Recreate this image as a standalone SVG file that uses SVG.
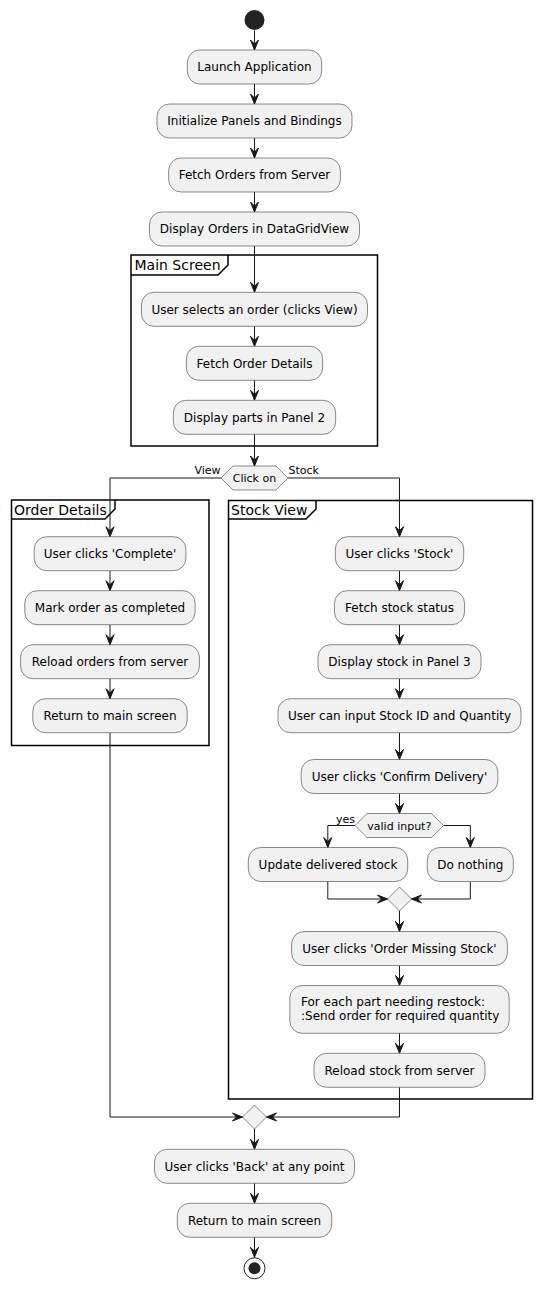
<svg xmlns="http://www.w3.org/2000/svg" width="542" height="1289" viewBox="0 0 542 1289">
<style>
.box{fill:#F1F1F1;stroke:#181818;stroke-width:0.5}
.t{font-family:"DejaVu Sans",sans-serif;font-size:12px;fill:#000;text-anchor:middle}
.tl{font-family:"DejaVu Sans",sans-serif;font-size:12px;fill:#000}
.s{font-family:"DejaVu Sans",sans-serif;font-size:11px;fill:#000}
.ft{font-family:"DejaVu Sans",sans-serif;font-size:14px;fill:#000}
.frame{fill:none;stroke:#000;stroke-width:1.5}
.c{fill:none;stroke:#181818;stroke-width:1}
</style>
<defs>
<marker id="ah" markerUnits="userSpaceOnUse" viewBox="-1 -1 12 12" refX="10" refY="5" markerWidth="12" markerHeight="12" orient="auto">
<path d="M0,1 L10,5 L0,9 L4,5 Z" fill="#181818" stroke="#181818" stroke-width="1" stroke-linejoin="round"/>
</marker>
</defs>
<rect width="542" height="1289" fill="#FFFFFF"/>

<g id="frames">
<g id="frame-main">
<rect class="frame" x="131" y="255" width="246.5" height="191"/>
<path class="frame" d="M131,275 L218,275 L228,265 L228,255"/>
<text class="ft" x="134.5" y="269.5">Main Screen</text>
</g>
<g id="frame-order">
<rect class="frame" x="11.5" y="500" width="197.5" height="245.5"/>
<path class="frame" d="M11.5,519 L105,519 L115,509 L115,500"/>
<text class="ft" x="14" y="514.5">Order Details</text>
</g>
<g id="frame-stock">
<rect class="frame" x="228.5" y="500.5" width="304" height="598.5"/>
<path class="frame" d="M228.5,519 L306,519 L316,509 L316,500.5"/>
<text class="ft" x="231" y="515">Stock View</text>
</g>
</g>

<g id="connectors">
<line class="c" x1="254.5" y1="30.5" x2="254.5" y2="50" marker-end="url(#ah)"/>
<line class="c" x1="254.5" y1="84" x2="254.5" y2="104" marker-end="url(#ah)"/>
<line class="c" x1="254.5" y1="138" x2="254.5" y2="158" marker-end="url(#ah)"/>
<line class="c" x1="254.5" y1="192" x2="254.5" y2="212" marker-end="url(#ah)"/>
<line class="c" x1="254.5" y1="246" x2="254.5" y2="292.3" marker-end="url(#ah)"/>
<line class="c" x1="254.5" y1="326.3" x2="254.5" y2="346.3" marker-end="url(#ah)"/>
<line class="c" x1="254.5" y1="380.3" x2="254.5" y2="400.3" marker-end="url(#ah)"/>
<line class="c" x1="254.5" y1="434.3" x2="254.5" y2="466" marker-end="url(#ah)"/>
<polyline class="c" points="221,478 110,478 110,536.7" marker-end="url(#ah)"/>
<polyline class="c" points="288,478 399.5,478 399.5,536.7" marker-end="url(#ah)"/>
<line class="c" x1="110" y1="570.7" x2="110" y2="590.7" marker-end="url(#ah)"/>
<line class="c" x1="110" y1="624.7" x2="110" y2="644.7" marker-end="url(#ah)"/>
<line class="c" x1="110" y1="678.7" x2="110" y2="698.7" marker-end="url(#ah)"/>
<polyline class="c" points="110,732.7 110,1117 242.5,1117" marker-end="url(#ah)"/>
<line class="c" x1="399.5" y1="570.7" x2="399.5" y2="590.7" marker-end="url(#ah)"/>
<line class="c" x1="399.5" y1="624.7" x2="399.5" y2="644.7" marker-end="url(#ah)"/>
<line class="c" x1="399.5" y1="678.7" x2="399.5" y2="698.7" marker-end="url(#ah)"/>
<line class="c" x1="399.5" y1="732.7" x2="399.5" y2="759.5" marker-end="url(#ah)"/>
<line class="c" x1="399.5" y1="793.5" x2="399.5" y2="813.5" marker-end="url(#ah)"/>
<polyline class="c" points="355,825.5 327.8,825.5 327.8,847.5" marker-end="url(#ah)"/>
<polyline class="c" points="443.5,825.5 470.3,825.5 470.3,847.5" marker-end="url(#ah)"/>
<polyline class="c" points="327.8,881.5 327.8,899 387.5,899" marker-end="url(#ah)"/>
<polyline class="c" points="470.3,881.5 470.3,899 411.5,899" marker-end="url(#ah)"/>
<line class="c" x1="399.5" y1="911" x2="399.5" y2="931.5" marker-end="url(#ah)"/>
<line class="c" x1="399.5" y1="965.5" x2="399.5" y2="985.5" marker-end="url(#ah)"/>
<line class="c" x1="399.5" y1="1033.3" x2="399.5" y2="1053.3" marker-end="url(#ah)"/>
<polyline class="c" points="399.5,1087.3 399.5,1117 266.5,1117" marker-end="url(#ah)"/>
<line class="c" x1="254.5" y1="1129" x2="254.5" y2="1149.3" marker-end="url(#ah)"/>
<line class="c" x1="254.5" y1="1183.3" x2="254.5" y2="1203.3" marker-end="url(#ah)"/>
<line class="c" x1="254.5" y1="1237.3" x2="254.5" y2="1257.3" marker-end="url(#ah)"/>
<text class="s" x="220.5" y="474" text-anchor="end">View</text>
<text class="s" x="288.5" y="474">Stock</text>
<text class="s" x="355" y="823" text-anchor="end">yes</text>
</g>

<g id="start"><circle cx="254.5" cy="20" r="10" fill="#222222"/></g>

<g id="n-launch"><rect class="box" x="187.35" y="50" width="134.3" height="34" rx="12.5"/><text class="t" x="254.5" y="71.3">Launch Application</text></g>
<g id="n-init"><rect class="box" x="157" y="104" width="195" height="34" rx="12.5"/><text class="t" x="254.5" y="125.3">Initialize Panels and Bindings</text></g>
<g id="n-fetch-orders"><rect class="box" x="168.65" y="158" width="171.7" height="34" rx="12.5"/><text class="t" x="254.5" y="179.3">Fetch Orders from Server</text></g>
<g id="n-display-orders"><rect class="box" x="149.5" y="212" width="210" height="34" rx="12.5"/><text class="t" x="254.5" y="233.3">Display Orders in DataGridView</text></g>

<g id="n-select"><rect class="box" x="141.5" y="292.3" width="226" height="34" rx="12.5"/><text class="t" x="254.5" y="313.6">User selects an order (clicks View)</text></g>
<g id="n-fetch-details"><rect class="box" x="186.35" y="346.3" width="136.3" height="34" rx="12.5"/><text class="t" x="254.5" y="367.6">Fetch Order Details</text></g>
<g id="n-display-parts"><rect class="box" x="173.35" y="400.3" width="162.3" height="34" rx="12.5"/><text class="t" x="254.5" y="421.6">Display parts in Panel 2</text></g>

<g id="d-click"><polygon class="box" points="221,478 233,466 276,466 288,478 276,490 233,490"/><text class="s" x="254.5" y="482" text-anchor="middle">Click on</text></g>

<g id="n-complete"><rect class="box" x="34.2" y="536.7" width="151.7" height="34" rx="12.5"/><text class="t" x="110" y="558">User clicks 'Complete'</text></g>
<g id="n-mark"><rect class="box" x="24.8" y="590.7" width="170.3" height="34" rx="12.5"/><text class="t" x="110" y="612">Mark order as completed</text></g>
<g id="n-reload-orders"><rect class="box" x="20.6" y="644.7" width="178.8" height="34" rx="12.5"/><text class="t" x="110" y="666">Reload orders from server</text></g>
<g id="n-return1"><rect class="box" x="32.8" y="698.7" width="154.4" height="34" rx="12.5"/><text class="t" x="110" y="720">Return to main screen</text></g>

<g id="n-stock"><rect class="box" x="335.3" y="536.7" width="128.4" height="34" rx="12.5"/><text class="t" x="399.5" y="558">User clicks 'Stock'</text></g>
<g id="n-fetch-stock"><rect class="box" x="334.5" y="590.7" width="130" height="34" rx="12.5"/><text class="t" x="399.5" y="612">Fetch stock status</text></g>
<g id="n-display-stock"><rect class="box" x="318" y="644.7" width="163" height="34" rx="12.5"/><text class="t" x="399.5" y="666">Display stock in Panel 3</text></g>
<g id="n-input"><rect class="box" x="278" y="698.7" width="243" height="34" rx="12.5"/><text class="t" x="399.5" y="720">User can input Stock ID and Quantity</text></g>
<g id="n-confirm"><rect class="box" x="301.2" y="759.5" width="196.6" height="34" rx="12.5"/><text class="t" x="399.5" y="780.8">User clicks 'Confirm Delivery'</text></g>
<g id="d-valid"><polygon class="box" points="355,825.5 367,813.5 431.5,813.5 443.5,825.5 431.5,837.5 367,837.5"/><text class="s" x="399.3" y="829.5" text-anchor="middle">valid input?</text></g>
<g id="n-update"><rect class="box" x="248.3" y="847.5" width="159.4" height="34" rx="12.5"/><text class="t" x="328" y="868.8">Update delivered stock</text></g>
<g id="n-nothing"><rect class="box" x="427.3" y="847.5" width="86" height="34" rx="12.5"/><text class="t" x="470.3" y="868.8">Do nothing</text></g>
<g id="d-merge1"><polygon class="box" points="399.5,887 411.5,899 399.5,911 387.5,899"/></g>
<g id="n-order-missing"><rect class="box" x="291.6" y="931.5" width="215.8" height="34" rx="12.5"/><text class="t" x="399.5" y="952.8">User clicks 'Order Missing Stock'</text></g>
<g id="n-foreach"><rect class="box" x="289.8" y="985.5" width="219.4" height="47.8" rx="12.5"/><text class="tl" x="301" y="1005.5">For each part needing restock:</text><text class="tl" x="301" y="1019.5">:Send order for required quantity</text></g>
<g id="n-reload-stock"><rect class="box" x="314" y="1053.3" width="171" height="34" rx="12.5"/><text class="t" x="399.5" y="1074.6">Reload stock from server</text></g>

<g id="d-merge2"><polygon class="box" points="254.5,1105 266.5,1117 254.5,1129 242.5,1117"/></g>
<g id="n-back"><rect class="box" x="154.5" y="1149.3" width="200" height="34" rx="12.5"/><text class="t" x="254.5" y="1170.6">User clicks 'Back' at any point</text></g>
<g id="n-return2"><rect class="box" x="177.3" y="1203.3" width="154.4" height="34" rx="12.5"/><text class="t" x="254.5" y="1224.6">Return to main screen</text></g>
<g id="end"><circle cx="254.5" cy="1268.3" r="10.5" fill="none" stroke="#222222" stroke-width="1"/><circle cx="254.5" cy="1268.3" r="6" fill="#222222"/></g>
</svg>
